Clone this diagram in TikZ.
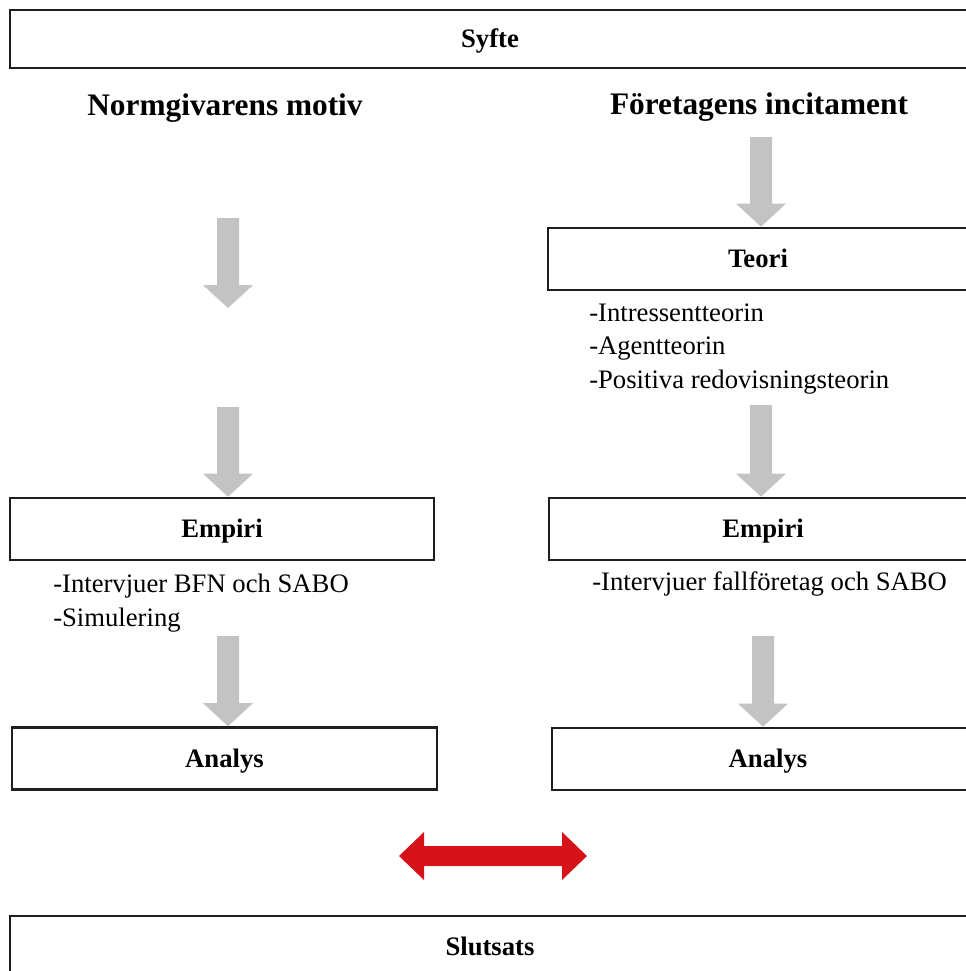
\documentclass[tikz,border=0pt]{standalone}
\usepackage{fontspec}
\setmainfont{Liberation Serif}
\usetikzlibrary{calc}
\definecolor{arrowgray}{HTML}{C3C3C3}
\definecolor{arrowred}{HTML}{D51318}
\definecolor{boxline}{HTML}{1E1E1E}
\newcommand\grayarrow[2]{%
  \fill[arrowgray] ($(#1)+(-11,0)$) -- ($(#2)+(-11,-23)$) -- ($(#2)+(-25,-23)$) -- (#2)
    -- ($(#2)+(25,-23)$) -- ($(#2)+(11,-23)$) -- ($(#1)+(11,0)$) -- cycle;}
\begin{document}
\begin{tikzpicture}[x=0.75pt,y=-0.75pt,
  box/.style={draw=boxline, line width=2pt, inner sep=0pt, text height=13.2pt, text depth=0pt,
    font=\fontsize{20}{24}\selectfont\bfseries},
  head/.style={inner sep=0pt, anchor=base, font=\fontsize{23.5}{28}\selectfont\bfseries},
  note/.style={inner sep=0pt, anchor=base west, font=\fontsize{20}{24}\selectfont}]
\useasboundingbox (0,0) rectangle (966,971);
\clip (0,0) rectangle (966,971);

% boxes
\node[box, minimum width=960*0.75pt, minimum height=58*0.75pt] (syfte) at (490,39) {Syfte};
\node[head] (normg) at (225,115) {Normgivarens motiv};
\node[head] (foret) at (759,114) {Företagens incitament};

\node[box, minimum width=420*0.75pt, minimum height=62*0.75pt] (teori) at (758,259) {Teori};
\node[note] (t1) at (589,321) {-Intressentteorin};
\node[note] (t2) at (589,354) {-Agentteorin};
\node[note] (t3) at (589,388) {-Positiva redovisningsteorin};

\node[box, minimum width=424*0.75pt, minimum height=62*0.75pt] (lemp) at (222,529) {Empiri};
\node[box, minimum width=428*0.75pt, minimum height=62*0.75pt] (remp) at (763,529) {Empiri};
\node[note] (l1) at (53,592) {-Intervjuer BFN och SABO};
\node[note] (l2) at (53,626) {-Simulering};
\node[note] (r1) at (592,590) {-Intervjuer fallföretag och SABO};

\node[box, minimum width=425*0.75pt, minimum height=62*0.75pt] (lana) at (224.5,758.5) {Analys};
\node[box, minimum width=432*0.75pt, minimum height=62*0.75pt] (rana) at (768,759) {Analys};

\node[box, minimum width=960*0.75pt, minimum height=62*0.75pt] (sluts) at (490,947) {Slutsats};

% gray arrows
\coordinate (la1s) at (228,218);
\coordinate (la1e) at (228,308);
\coordinate (la2s) at (228,407);
\coordinate (la2e) at (228,0 |- lemp.north);
\coordinate (la3s) at (228,636);
\coordinate (la3e) at (228,0 |- lana.north);
\coordinate (ra1s) at (761,137);
\coordinate (ra1e) at (761,0 |- teori.north);
\coordinate (ra2s) at (761,405);
\coordinate (ra2e) at (761,0 |- remp.north);
\coordinate (ra3s) at (763,636);
\coordinate (ra3e) at (763,0 |- rana.north);
\grayarrow{la1s}{la1e}
\grayarrow{la2s}{la2e}
\grayarrow{la3s}{la3e}
\grayarrow{ra1s}{ra1e}
\grayarrow{ra2s}{ra2e}
\grayarrow{ra3s}{ra3e}

% red double arrow
\coordinate (dl) at (399,856);
\coordinate (dr) at (587,856);
\fill[arrowred] (dl) -- ($(dl)+(25,-24)$) -- ($(dl)+(25,-10)$) -- ($(dr)+(-25,-10)$) -- ($(dr)+(-25,-24)$)
  -- (dr) -- ($(dr)+(-25,24)$) -- ($(dr)+(-25,10)$) -- ($(dl)+(25,10)$) -- ($(dl)+(25,24)$) -- cycle;
\end{tikzpicture}
\end{document}
